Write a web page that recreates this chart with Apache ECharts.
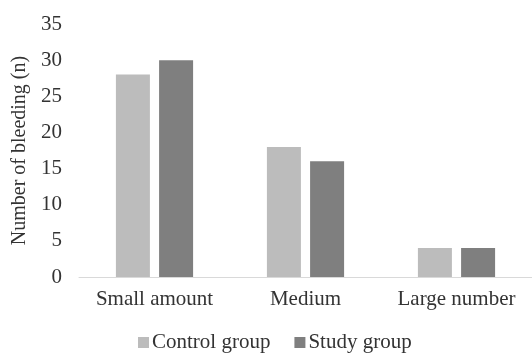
<!DOCTYPE html>
<html>
<head>
<meta charset="utf-8">
<script src="https://cdn.jsdelivr.net/npm/echarts@6/dist/echarts.min.js"></script>
<style>
  html, body { margin: 0; padding: 0; background: #fff; }
  #chart { width: 532px; height: 354px; }
</style>
</head>
<body>
<div id="chart"></div>
<script>
// categories and series values
const categories = ['Small amount', 'Medium', 'Large number']
const controlGroup = [28, 18, 4]
const studyGroup = [30, 16, 4]
const yTicks = [0, 35, 5] // min, max, step

const font = 'Liberation Serif'
const textColor = '#333'

const chart = echarts.init(document.getElementById('chart'))
chart.setOption({
  animation: false,
  textStyle: { fontFamily: font },
  grid: {
    left: 79,
    right: -2,
    top: 24,
    bottom: 77
  },
  legend: {
    data: ['Control group', 'Study group'],
    left: 133,
    top: 327,
    itemWidth: 11,
    itemHeight: 11,
    itemGap: 24,
    icon: 'rect',
    textStyle: { fontFamily: font, fontSize: 21, color: textColor, padding: [0, 0, 0, -2] }
  },
  xAxis: {
    type: 'category',
    data: categories,
    axisLine: { lineStyle: { color: '#d9d9d9', width: 1 } },
    axisTick: { show: false },
    axisLabel: {
      interval: 0,
      margin: 12,
      fontFamily: font,
      fontSize: 21,
      color: textColor
    }
  },
  yAxis: {
    type: 'value',
    min: yTicks[0],
    max: yTicks[1],
    interval: yTicks[2],
    name: 'Number of bleeding (n)',
    nameLocation: 'middle',
    nameGap: 48,
    nameTextStyle: { fontFamily: font, fontSize: 20, color: textColor },
    axisLine: { show: false },
    axisTick: { show: false },
    splitLine: { show: false },
    axisLabel: {
      margin: 17,
      fontFamily: font,
      fontSize: 21,
      color: textColor
    }
  },
  series: [
    {
      name: 'Control group',
      type: 'bar',
      data: controlGroup,
      barWidth: 34,
      barGap: '27%',
      itemStyle: { color: '#bcbcbc' }
    },
    {
      name: 'Study group',
      type: 'bar',
      data: studyGroup,
      barWidth: 34,
      itemStyle: { color: '#7f7f7f' }
    }
  ]
})
</script>
</body>
</html>
